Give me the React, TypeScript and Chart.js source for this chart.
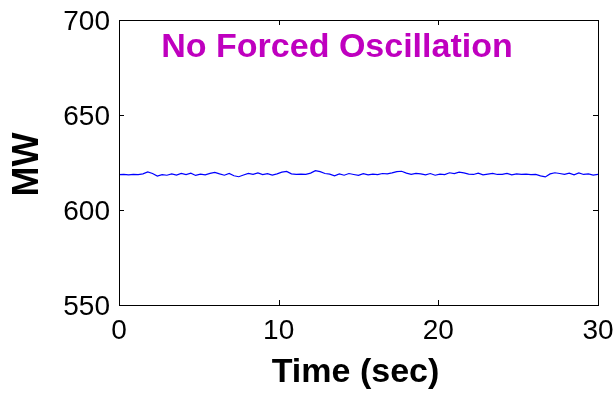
import React, { useEffect, useRef } from "react";
import { Chart, registerables } from "chart.js";

Chart.register(...registerables);

const timeSec: number[] = [
  0, 0.3, 0.6, 0.9, 1.2, 1.5, 1.8, 2.1, 2.4, 2.7,
  3.0, 3.3, 3.6, 3.9, 4.2, 4.5, 4.8, 5.1, 5.4, 5.7,
  6.0, 6.3, 6.6, 6.9, 7.2, 7.5, 7.8, 8.1, 8.4, 8.7,
  9.0, 9.3, 9.6, 9.9, 10.2, 10.5, 10.8, 11.1, 11.4, 11.7,
  12.0, 12.3, 12.6, 12.9, 13.2, 13.5, 13.8, 14.1, 14.4, 14.7,
  15.0, 15.3, 15.6, 15.9, 16.2, 16.5, 16.8, 17.1, 17.4, 17.7,
  18.0, 18.3, 18.6, 18.9, 19.2, 19.5, 19.8, 20.1, 20.4, 20.7,
  21.0, 21.3, 21.6, 21.9, 22.2, 22.5, 22.8, 23.1, 23.4, 23.7,
  24.0, 24.3, 24.6, 24.9, 25.2, 25.5, 25.8, 26.1, 26.4, 26.7,
  27.0, 27.3, 27.6, 27.9, 28.2, 28.5, 28.8, 29.1, 29.4, 29.7,
  30.0,
];

const powerMW: number[] = [
  618.6, 618.7, 618.5, 618.8, 618.6, 619.0, 620.0, 619.2, 617.9, 618.6,
  618.3, 619.0, 618.4, 619.3, 618.6, 619.4, 618.2, 618.9, 618.5, 619.3,
  619.8, 619.0, 618.3, 619.2, 618.0, 617.5, 618.4, 619.3, 618.8, 619.5,
  618.6, 619.1, 618.4, 619.0, 619.9, 620.3, 619.0, 618.7, 618.9, 618.8,
  619.4, 620.7, 620.2, 619.2, 618.9, 618.0, 619.0, 618.3, 619.2, 618.7,
  618.2, 619.1, 618.5, 618.9, 618.6, 619.2, 619.0, 619.5, 620.2, 620.4,
  619.4, 618.8, 619.3, 619.0, 618.5, 619.2, 618.3, 618.9, 618.6, 619.6,
  619.2, 619.9, 619.5, 618.9, 618.7, 619.4, 618.5, 618.9, 619.3, 618.7,
  618.8, 619.3, 618.5, 619.0, 618.7, 618.9, 618.6, 618.7, 618.0, 617.4,
  619.0, 619.6, 619.2, 618.8, 619.4, 618.5, 619.5, 618.7, 619.0, 618.4,
  618.8,
];

const xTicks: number[] = [0, 10, 20, 30];
const yTicks: number[] = [550, 600, 650, 700];

const titleText = "No Forced Oscillation";
const xLabel = "Time (sec)";
const yLabel = "MW";

const FONT = "'Liberation Sans', Arial, Helvetica, sans-serif";

const framePlugin = {
  id: "matlabFrame",
  afterDraw(chart: any) {
    const { ctx, chartArea, scales } = chart;
    const { left, right, top, bottom } = chartArea;
    const xs = scales.x;
    const ys = scales.y;
    ctx.save();
    ctx.strokeStyle = "#000";
    ctx.lineWidth = 1;
    ctx.strokeRect(left + 0.5, top + 0.5, right - left, bottom - top);
    const tl = 5;
    ctx.beginPath();
    xTicks.forEach((v) => {
      const px = Math.round(xs.getPixelForValue(v)) + 0.5;
      ctx.moveTo(px, bottom);
      ctx.lineTo(px, bottom - tl);
      ctx.moveTo(px, top);
      ctx.lineTo(px, top + tl);
    });
    yTicks.forEach((v) => {
      const py = Math.round(ys.getPixelForValue(v)) + 0.5;
      ctx.moveTo(left, py);
      ctx.lineTo(left + tl, py);
      ctx.moveTo(right, py);
      ctx.lineTo(right - tl, py);
    });
    ctx.stroke();

    // title inside plot
    ctx.fillStyle = "#BF00BF";
    ctx.font = `bold 34px ${FONT}`;
    ctx.textAlign = "center";
    ctx.textBaseline = "middle";
    ctx.fillText(titleText, left + 218, top + 28);

    // x axis label
    ctx.fillStyle = "#000";
    ctx.font = `bold 34px ${FONT}`;
    ctx.fillText(xLabel, (left + right) / 2 - 3, bottom + 68);

    // y axis label
    ctx.save();
    ctx.translate(28, (top + bottom) / 2 + 2);
    ctx.rotate(-Math.PI / 2);
    ctx.font = `bold 36px ${FONT}`;
    ctx.fillText(yLabel, 0, 0);
    ctx.restore();
    ctx.restore();
  },
};

export default function App() {
  const canvasRef = useRef<HTMLCanvasElement | null>(null);

  useEffect(() => {
    document.body.style.margin = "0";
    const canvas = canvasRef.current;
    if (!canvas) return;
    const points = timeSec.map((t, i) => ({ x: t, y: powerMW[i] }));
    const chart = new Chart(canvas, {
      type: "line",
      data: {
        datasets: [
          {
            data: points,
            borderColor: "#0000FF",
            borderWidth: 1.2,
            pointRadius: 0,
            tension: 0,
            fill: false,
          },
        ],
      },
      options: {
        animation: false,
        responsive: false,
        maintainAspectRatio: false,
        layout: { padding: { top: 20, right: 16, left: 0, bottom: 0 } },
        plugins: {
          legend: { display: false },
          tooltip: { enabled: false },
          title: { display: false },
        },
        scales: {
          x: {
            type: "linear",
            min: 0,
            max: 30,
            afterBuildTicks: (scale: any) => {
              scale.ticks = xTicks.map((v) => ({ value: v }));
            },
            afterFit: (scale: any) => {
              scale.height = 90;
              scale.paddingLeft = 0;
              scale.paddingRight = 0;
            },
            grid: { display: false, drawTicks: false },
            border: { display: false },
            ticks: {
              padding: 9,
              color: "#000",
              maxRotation: 0,
              font: { family: FONT, size: 28 },
            },
          },
          y: {
            type: "linear",
            min: 550,
            max: 700,
            afterBuildTicks: (scale: any) => {
              scale.ticks = yTicks.map((v) => ({ value: v }));
            },
            afterFit: (scale: any) => {
              scale.width = 119;
              scale.paddingTop = 0;
              scale.paddingBottom = 0;
            },
            grid: { display: false, drawTicks: false },
            border: { display: false },
            ticks: {
              padding: 9,
              labelOffset: 2,
              color: "#000",
              font: { family: FONT, size: 28 },
            },
          },
        },
      },
      plugins: [framePlugin],
    });
    return () => chart.destroy();
  }, []);

  return (
    <div style={{ position: "absolute", left: 0, top: 0, width: 614, height: 395, background: "#fff" }}>
      <canvas ref={canvasRef} width={614} height={395} style={{ width: 614, height: 395 }} />
    </div>
  );
}
